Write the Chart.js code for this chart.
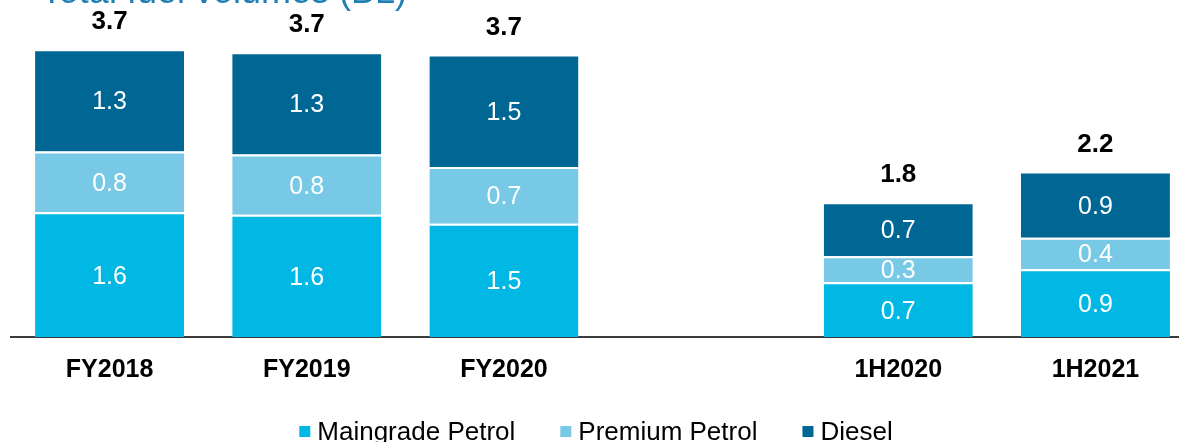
<!DOCTYPE html>
<html>
<head>
<meta charset="utf-8">
<script src="https://cdn.jsdelivr.net/npm/chart.js@4.4.1/dist/chart.umd.min.js"></script>
<style>
    html, body { margin: 0; padding: 0; background: #fff; overflow: hidden; }
    #wrap { position: relative; width: 1194px; height: 442px; }
</style>
</head>
<body>
<div id="wrap"><canvas id="volumeChart"></canvas></div>
<script>
    // categories (empty slot keeps the gap between full years and halves)
    const periods = ['FY2018', 'FY2019', 'FY2020', '', '1H2020', '1H2021'];

    // fuel volumes per period
    const maingrade = [1.62, 1.59, 1.47, null, 0.71, 0.88];
    const premium = [0.79, 0.78, 0.74, null, 0.34, 0.41];
    const diesel = [1.33, 1.33, 1.46, null, 0.70, 0.86];
    const totals = [3.7, 3.7, 3.7, null, 1.8, 2.2];

    const yTicks = [0, 3.95];

    const FONT = '"Liberation Sans", Arial, sans-serif';

    // partly visible heading at the very top
    const titlePlugin = {
        id: 'titleStrip',
        afterDraw(chart) {
            const ctx = chart.ctx;
            ctx.save();
            ctx.fillStyle = '#1f7fb2';
            ctx.font = '36px ' + FONT;
            ctx.textAlign = 'right';
            ctx.textBaseline = 'alphabetic';
            ctx.fillText('Total fuel volumes (BL)', 407, 3);
            ctx.restore();
        }
    };

    // value inside each segment and the total above each bar
    const labelPlugin = {
        id: 'barLabels',
        afterDatasetsDraw(chart) {
            const ctx = chart.ctx;
            ctx.save();
            ctx.textAlign = 'center';
            ctx.textBaseline = 'middle';

            chart.data.datasets.forEach((ds, di) => {
                const meta = chart.getDatasetMeta(di);
                meta.data.forEach((bar, i) => {
                    const v = ds.data[i];
                    if (v == null) return;
                    const p = bar.getProps(['x', 'y', 'base'], true);
                    ctx.fillStyle = '#ffffff';
                    ctx.font = '25px ' + FONT;
                    ctx.fillText(v.toFixed(1), p.x, (p.y + p.base) / 2 + 2);
                });
            });

            const top = chart.getDatasetMeta(chart.data.datasets.length - 1);
            top.data.forEach((bar, i) => {
                if (totals[i] == null) return;
                const p = bar.getProps(['x', 'y'], true);
                ctx.fillStyle = '#000000';
                ctx.font = 'bold 26px ' + FONT;
                ctx.fillText(totals[i].toFixed(1), p.x, p.y - 27);
            });
            ctx.restore();
        }
    };

    // legend row under the axis labels
    const legendPlugin = {
        id: 'legendRow',
        afterDraw(chart) {
            const ctx = chart.ctx;
            const sets = chart.data.datasets;
            ctx.save();
            ctx.font = '26px ' + FONT;
            const box = 11, textGap = 18, itemGap = 45;
            const widths = sets.map(ds => ctx.measureText(ds.label).width);
            let total = widths.reduce((a, b) => a + b, 0) + sets.length * textGap + (sets.length - 1) * itemGap;
            let x = 596 - total / 2;
            const baseY = 440;
            sets.forEach((ds, i) => {
                ctx.fillStyle = ds.backgroundColor;
                ctx.fillRect(x, 426, box, box);
                ctx.fillStyle = '#000000';
                ctx.textAlign = 'left';
                ctx.textBaseline = 'alphabetic';
                ctx.fillText(ds.label, x + textGap, baseY);
                x += textGap + widths[i] + itemGap;
            });
            ctx.restore();
        }
    };

    const segBorder = { top: 2, right: 0, bottom: 0, left: 0 };

    const ctx = document.getElementById('volumeChart').getContext('2d');
    const chart = new Chart(ctx, {
        type: 'bar',
        data: {
            labels: periods,
            datasets: [
                {
                    label: 'Maingrade Petrol',
                    data: maingrade,
                    backgroundColor: '#00b8e3',
                    borderColor: '#ffffff',
                    borderWidth: segBorder,
                    borderSkipped: false
                },
                {
                    label: 'Premium Petrol',
                    data: premium,
                    backgroundColor: '#77c9e6',
                    borderColor: '#ffffff',
                    borderWidth: segBorder,
                    borderSkipped: false
                },
                {
                    label: 'Diesel',
                    data: diesel,
                    backgroundColor: '#006794',
                    borderColor: '#ffffff',
                    borderWidth: segBorder,
                    borderSkipped: false
                }
            ]
        },
        options: {
            responsive: true,
            maintainAspectRatio: false,
            animation: false,
            barPercentage: 0.756,
            categoryPercentage: 1,
            layout: { padding: { top: 33, left: 11, right: 0, bottom: 55 } },
            scales: {
                x: {
                    stacked: true,
                    grid: { display: false, drawTicks: false },
                    border: { display: true, color: '#3c3c3c', width: 2 },
                    ticks: {
                        padding: 18,
                        color: '#000000',
                        font: { family: FONT, size: 25, weight: 'bold' }
                    },
                    afterFit(scale) { scale.height = 50; }
                },
                y: {
                    stacked: true,
                    display: false,
                    min: yTicks[0],
                    max: yTicks[1]
                }
            },
            plugins: {
                legend: { display: false },
                tooltip: { enabled: false }
            }
        },
        plugins: [titlePlugin, labelPlugin, legendPlugin]
    });
</script>
</body>
</html>
